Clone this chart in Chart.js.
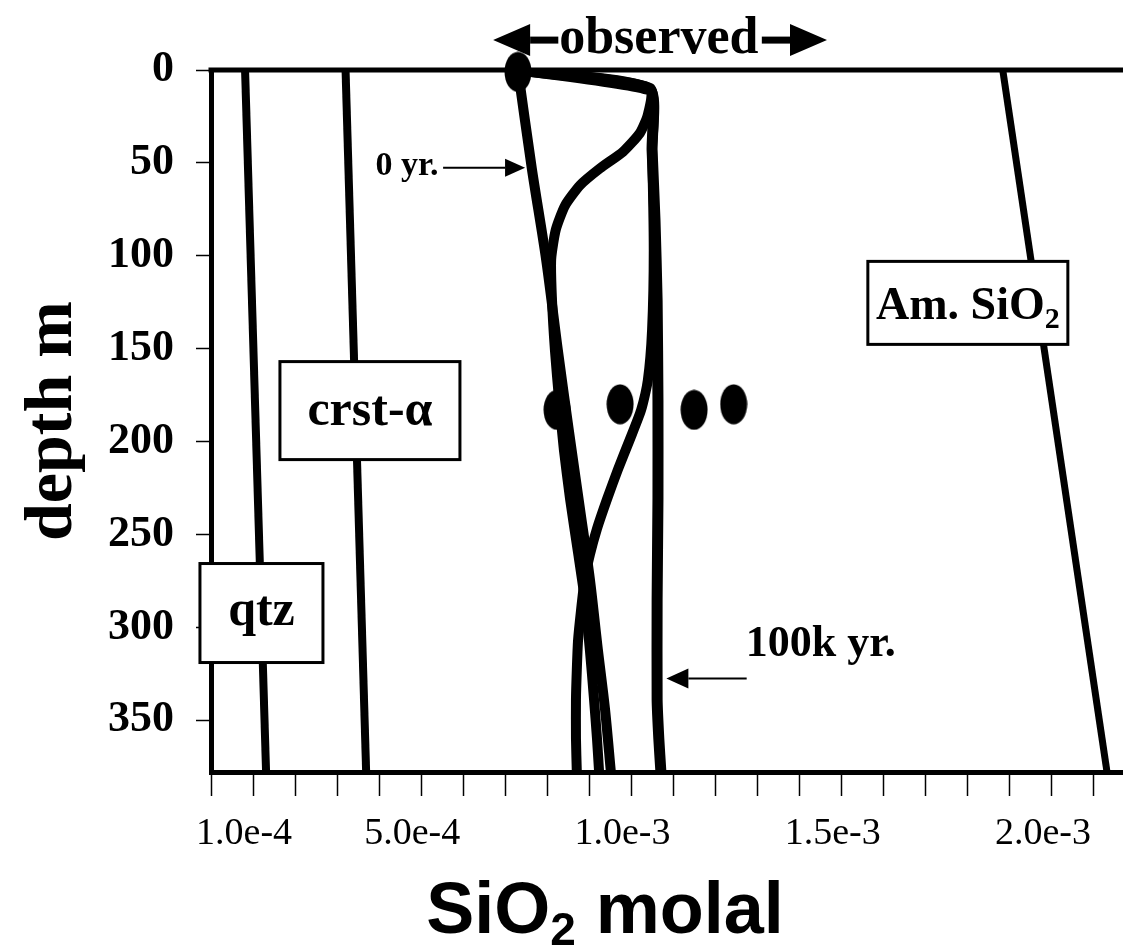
<!DOCTYPE html>
<html>
<head>
<meta charset="utf-8">
<script src="https://cdn.jsdelivr.net/npm/chart.js@4.4.1/dist/chart.umd.min.js"></script>
<style>
  html, body { margin: 0; padding: 0; background: #fff; overflow: hidden; }
  #wrap { width: 1123px; height: 946px; }
</style>
</head>
<body>
<div id="wrap"><canvas id="sio2Chart" width="1123" height="946"></canvas></div>
<script>
// SiO2 values are in units of 1e-3 molal, depth in m
const qtzDepth = [0, 378];
const qtzSiO2 = [0.081, 0.131];
const crstDepth = [0, 378];
const crstSiO2 = [0.320, 0.369];
const amDepth = [0, 378];
const amSiO2 = [1.883, 2.131];

// 0 yr. profile
const yr0Depth = [0, 53, 102, 151, 194, 237, 274, 312, 344, 378];
const yr0SiO2 = [0.730, 0.763, 0.797, 0.825, 0.851, 0.878, 0.901, 0.920, 0.937, 0.951];

// intermediate profiles (unlabelled)
const midADepth = [0, 11, 24, 34, 44, 53, 62, 73, 86, 102, 124, 151, 178, 204, 231, 260, 285, 312, 339, 360, 378];
const midASiO2 = [0.730, 1.044, 1.039, 1.020, 0.980, 0.925, 0.878, 0.842, 0.820, 0.809, 0.811, 0.818, 0.828, 0.839, 0.854, 0.873, 0.889, 0.901, 0.911, 0.918, 0.923];
const midBDepth = [0, 10, 43, 97, 140, 167, 183, 199, 215, 231, 247, 261, 274, 291, 307, 323, 339, 360, 378];
const midBSiO2 = [0.730, 1.044, 1.049, 1.053, 1.049, 1.039, 1.023, 0.996, 0.968, 0.942, 0.918, 0.901, 0.889, 0.880, 0.873, 0.870, 0.868, 0.868, 0.870];

// 100k yr. profile
const yr100kDepth = [0, 10, 43, 81, 124, 178, 231, 285, 339, 360, 378];
const yr100kSiO2 = [0.730, 1.044, 1.049, 1.056, 1.061, 1.063, 1.063, 1.061, 1.061, 1.065, 1.070];

// observed
const obsDepth = [1, 183, 180, 183, 180];
const obsSiO2 = [0.730, 0.823, 0.973, 1.149, 1.243];

// axes
const xMinorTicks = [0, 0.1, 0.2, 0.3, 0.4, 0.5, 0.6, 0.7, 0.8, 0.9, 1.0, 1.1, 1.2, 1.3, 1.4, 1.5, 1.6, 1.7, 1.8, 1.9, 2.0, 2.1];
const xLabelValues = [0.1, 0.5, 1.0, 1.5, 2.0];
const xLabelText = ['1.0e-4', '5.0e-4', '1.0e-3', '1.5e-3', '2.0e-3'];
const yTicks = [0, 50, 100, 150, 200, 250, 300, 350];

const serif = "'Liberation Serif', 'Times New Roman', serif";
const sans = "'Liberation Sans', Arial, sans-serif";

function pts(depth, sio2) {
    return depth.map((d, i) => ({ x: sio2[i], y: d }));
}

function lineSet(label, depth, sio2, width, tension) {
    return {
        label: label,
        data: pts(depth, sio2),
        showLine: true,
        borderColor: '#000',
        borderWidth: width,
        pointRadius: 0,
        tension: tension,
        borderJoinStyle: 'round'
    };
}

// black ellipse used for the observed points
const dotImg = document.createElement('canvas');
dotImg.width = 28;
dotImg.height = 41;
const dc = dotImg.getContext('2d');
dc.fillStyle = '#000';
dc.beginPath();
dc.ellipse(14, 20.5, 13.5, 20, 0, 0, 2 * Math.PI);
dc.fill();

function richText(ctx, parts, cx, baseY) {
    let w = 0;
    parts.forEach(p => { ctx.font = p.font; w += ctx.measureText(p.t).width; });
    let xx = cx - w / 2;
    ctx.textAlign = 'left';
    ctx.textBaseline = 'alphabetic';
    parts.forEach(p => {
        ctx.font = p.font;
        ctx.fillText(p.t, xx, baseY + (p.dy || 0));
        xx += ctx.measureText(p.t).width;
    });
}

function arrow(ctx, fromX, y, tipX, shaft, headLen, headHalf) {
    const dir = tipX > fromX ? 1 : -1;
    const baseX = tipX - dir * headLen;
    ctx.lineWidth = shaft;
    ctx.beginPath();
    ctx.moveTo(fromX, y);
    ctx.lineTo(baseX, y);
    ctx.stroke();
    ctx.beginPath();
    ctx.moveTo(tipX, y);
    ctx.lineTo(baseX, y - headHalf);
    ctx.lineTo(baseX, y + headHalf);
    ctx.closePath();
    ctx.fill();
}

function labelBox(ctx, cx, cy, w, h) {
    ctx.fillStyle = '#fff';
    ctx.fillRect(cx - w / 2, cy - h / 2, w, h);
    ctx.strokeStyle = '#000';
    ctx.lineWidth = 3;
    ctx.strokeRect(cx - w / 2, cy - h / 2, w, h);
    ctx.fillStyle = '#000';
}

const notes = {
    id: 'notes',
    afterDraw(chart) {
        const { ctx, chartArea: a, scales: { x, y } } = chart;
        const X = v => x.getPixelForValue(v);
        const Y = d => y.getPixelForValue(d);
        ctx.save();
        ctx.strokeStyle = '#000';
        ctx.fillStyle = '#000';

        // top frame line
        ctx.lineWidth = 5;
        ctx.beginPath();
        ctx.moveTo(a.left - 2.5, a.top);
        ctx.lineTo(a.right, a.top);
        ctx.stroke();

        // mineral labels
        labelBox(ctx, X(1.800), Y(125.4), 200, 83);
        richText(ctx, [
            { t: 'Am. SiO', font: 'bold 46px ' + serif },
            { t: '2', font: 'bold 30px ' + serif, dy: 9 }
        ], X(1.800), Y(125.4) + 16);

        labelBox(ctx, X(0.378), Y(183.4), 180, 98);
        richText(ctx, [{ t: 'crst-\u03b1', font: 'bold 50px ' + serif }], X(0.378), Y(183.4) + 14);

        labelBox(ctx, X(0.120), Y(292.4), 123, 99);
        richText(ctx, [{ t: 'qtz', font: 'bold 50px ' + serif }], X(0.120), Y(292.4) + 12);

        // time labels
        richText(ctx, [{ t: '0 yr.', font: 'bold 34px ' + serif }], X(0.466), Y(50) + 12);
        arrow(ctx, X(0.552), Y(52.7), X(0.747), 2, 20, 9);

        richText(ctx, [{ t: '100k yr.', font: 'bold 44px ' + serif }], X(1.450), Y(307.7) + 15);
        arrow(ctx, X(1.274), Y(327.6), X(1.083), 2, 22, 10);

        // observed
        richText(ctx, [{ t: 'observed', font: 'bold 52px ' + serif }], X(1.065), Y(-18.8) + 18);
        arrow(ctx, X(0.826), Y(-16.1), X(0.671), 7, 37, 16);
        arrow(ctx, X(1.310), Y(-16.1), X(1.465), 7, 37, 16);

        // axis titles
        ctx.save();
        ctx.translate(a.left - 161, (a.top + a.bottom) / 2);
        ctx.rotate(-Math.PI / 2);
        richText(ctx, [{ t: 'depth m', font: 'bold 68px ' + serif }], 0, 21);
        ctx.restore();

        richText(ctx, [
            { t: 'SiO', font: 'bold 72px ' + sans },
            { t: '2', font: 'bold 46px ' + sans, dy: 12 },
            { t: ' molal', font: 'bold 72px ' + sans }
        ], a.left + 394, 933);

        ctx.restore();
    }
};

new Chart(document.getElementById('sio2Chart'), {
    type: 'scatter',
    data: {
        datasets: [
            lineSet('qtz', qtzDepth, qtzSiO2, 8, 0),
            lineSet('crst-\u03b1', crstDepth, crstSiO2, 8, 0),
            lineSet('Am. SiO2', amDepth, amSiO2, 7, 0),
            lineSet('0 yr.', yr0Depth, yr0SiO2, 10, 0.3),
            lineSet('mid A', midADepth, midASiO2, 10, 0.2),
            lineSet('mid B', midBDepth, midBSiO2, 10, 0.2),
            lineSet('100k yr.', yr100kDepth, yr100kSiO2, 11, 0.15),
            {
                label: 'observed',
                data: pts(obsDepth, obsSiO2),
                pointStyle: dotImg,
                pointRadius: 14,
                showLine: false,
                clip: false
            }
        ]
    },
    options: {
        responsive: false,
        animation: false,
        devicePixelRatio: 1,
        layout: { autoPadding: false, padding: { top: 70, left: 0, right: 0, bottom: 0 } },
        plugins: {
            legend: { display: false },
            tooltip: { enabled: false }
        },
        scales: {
            x: {
                type: 'linear',
                min: 0,
                max: 2.169,
                afterBuildTicks: s => { s.ticks = xMinorTicks.map(v => ({ value: v })); },
                afterFit: s => { s.height = 174; },
                grid: { display: true, drawOnChartArea: false, drawTicks: true, tickLength: 24, tickWidth: 1.5, tickColor: '#000' },
                border: { display: true, color: '#000', width: 5 },
                ticks: {
                    autoSkip: false,
                    maxRotation: 0,
                    padding: 15,
                    labelOffset: -9,
                    color: '#000',
                    font: { family: serif, size: 38 },
                    callback: v => {
                        const i = xLabelValues.findIndex(l => Math.abs(l - v) < 1e-9);
                        return i >= 0 ? xLabelText[i] : '';
                    }
                }
            },
            y: {
                type: 'linear',
                reverse: true,
                min: 0,
                max: 378,
                afterBuildTicks: s => { s.ticks = yTicks.map(v => ({ value: v })); },
                afterFit: s => { s.width = 211; },
                grid: { display: true, drawOnChartArea: false, drawTicks: true, tickLength: 15, tickWidth: 1.5, tickColor: '#000' },
                border: { display: true, color: '#000', width: 5 },
                ticks: {
                    autoSkip: false,
                    padding: 22,
                    color: '#000',
                    font: { family: serif, size: 44, weight: 'bold' }
                }
            }
        }
    },
    plugins: [notes]
});
</script>
</body>
</html>
